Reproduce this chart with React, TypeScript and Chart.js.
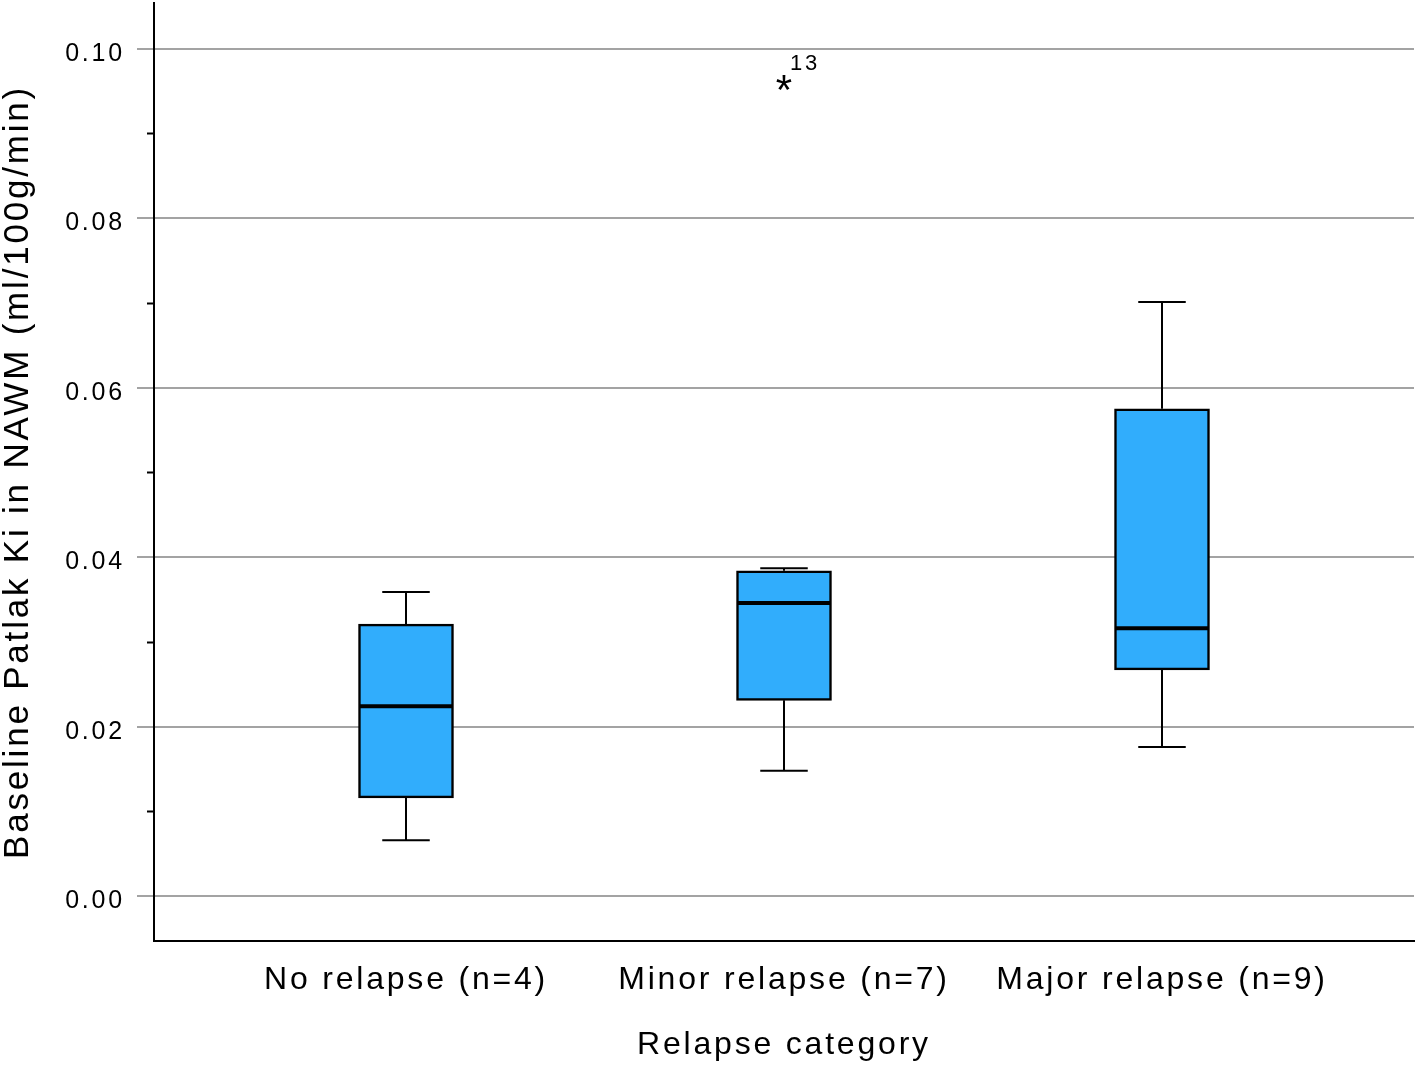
import React, { useEffect, useRef } from 'react';
import { Chart, registerables, Plugin } from 'chart.js';

Chart.register(...registerables);

// Box plot values
const categories = ['No relapse (n=4)', 'Minor relapse (n=7)', 'Major relapse (n=9)'];
const whiskerLow = [0.0066, 0.0148, 0.0176];
const q1 = [0.0116, 0.0231, 0.0267];
const medians = [0.0224, 0.0346, 0.0316];
const q3 = [0.0321, 0.0384, 0.0575];
const whiskerHigh = [0.0359, 0.0387, 0.0701];

// Extreme outlier (shown as *) with its case number
const outlierCategory = [1];
const outlierValues = [0.096];
const outlierLabels = ['13'];

const yTicks = [0, 0.02, 0.04, 0.06, 0.08, 0.1];
const yMinorTicks = [0.01, 0.03, 0.05, 0.07, 0.09];

const FONT = "'Liberation Sans', Arial, sans-serif";
const BOX_COLOR = '#31ADFC';
const GRID_COLOR = '#A3A3A3';

const boxPlotPlugin: Plugin<'bar'> = {
    id: 'boxPlotExtras',
    beforeUpdate(chart) {
        (chart.ctx as any).letterSpacing = '2.8px';
    },
    beforeDraw(chart) {
        (chart.ctx as any).letterSpacing = '2.8px';
    },
    afterDatasetsDraw(chart) {
        const { ctx, scales } = chart;
        const x = scales.x;
        const y = scales.y;
        const meta = chart.getDatasetMeta(0);
        ctx.save();
        ctx.strokeStyle = '#000';
        categories.forEach((_, i) => {
            const bar = meta.data[i] as any;
            const cx = x.getPixelForValue(i);
            const half = bar.width / 2;
            const capHalf = half / 2;
            const yHi = y.getPixelForValue(whiskerHigh[i]);
            const yLo = y.getPixelForValue(whiskerLow[i]);
            const yQ3 = y.getPixelForValue(q3[i]);
            const yQ1 = y.getPixelForValue(q1[i]);

            // whiskers and caps
            ctx.lineWidth = 2;
            ctx.beginPath();
            ctx.moveTo(cx, yQ3);
            ctx.lineTo(cx, yHi);
            ctx.moveTo(cx - capHalf, yHi);
            ctx.lineTo(cx + capHalf, yHi);
            ctx.moveTo(cx, yQ1);
            ctx.lineTo(cx, yLo);
            ctx.moveTo(cx - capHalf, yLo);
            ctx.lineTo(cx + capHalf, yLo);
            ctx.stroke();

            // median
            const yMed = y.getPixelForValue(medians[i]);
            ctx.lineWidth = 4;
            ctx.beginPath();
            ctx.moveTo(cx - half + 1, yMed);
            ctx.lineTo(cx + half - 1, yMed);
            ctx.stroke();
        });

        // outliers
        ctx.fillStyle = '#000';
        outlierValues.forEach((v, k) => {
            const px = x.getPixelForValue(outlierCategory[k]);
            const py = y.getPixelForValue(v);
            ctx.font = `42px ${FONT}`;
            (ctx as any).letterSpacing = '0px';
            const m = ctx.measureText('*');
            ctx.textAlign = 'center';
            ctx.textBaseline = 'alphabetic';
            ctx.fillText('*', px, py + (m.actualBoundingBoxAscent - m.actualBoundingBoxDescent) / 2);
            (ctx as any).letterSpacing = '2.8px';
            ctx.font = `22px ${FONT}`;
            ctx.textAlign = 'left';
            ctx.textBaseline = 'middle';
            ctx.fillText(outlierLabels[k], px + 6, py - 19);
        });
        ctx.restore();
    },
    afterDraw(chart) {
        const { ctx, chartArea, scales } = chart;
        const y = scales.y;
        ctx.save();
        ctx.strokeStyle = '#000';
        ctx.lineWidth = 2;
        ctx.beginPath();
        yMinorTicks.forEach((v) => {
            const py = Math.round(y.getPixelForValue(v)) + 0.5;
            ctx.moveTo(chartArea.left - 7, py);
            ctx.lineTo(chartArea.left, py);
        });
        ctx.stroke();
        ctx.restore();
    },
};

const BoxPlotChart: React.FC = () => {
    const canvasRef = useRef<HTMLCanvasElement | null>(null);
    const chartRef = useRef<Chart | null>(null);

    useEffect(() => {
        document.body.style.margin = '0';
        if (!canvasRef.current) return;
        const ctx = canvasRef.current.getContext('2d');
        if (!ctx) return;
        if (chartRef.current) chartRef.current.destroy();

        chartRef.current = new Chart(ctx, {
            type: 'bar',
            data: {
                datasets: [{
                    data: categories.map((_, i) => ({ x: i, y: [q1[i], q3[i]] })) as any,
                    backgroundColor: BOX_COLOR,
                    borderColor: '#000',
                    borderWidth: 2.5,
                    borderSkipped: false,
                    barThickness: 95,
                }],
            },
            options: {
                animation: false,
                responsive: false,
                devicePixelRatio: 1,
                layout: { padding: { top: 3, right: 3, left: 0, bottom: 0 } },
                plugins: {
                    legend: { display: false },
                    tooltip: { enabled: false },
                },
                scales: {
                    x: {
                        type: 'linear',
                        offset: false,
                        min: -2 / 3,
                        max: 8 / 3,
                        afterBuildTicks: (s: any) => {
                            s.ticks = categories.map((_, i) => ({ value: i }));
                        },
                        afterFit: (s: any) => {
                            s.height = 125;
                            s.paddingLeft = 0;
                            s.paddingRight = 0;
                        },
                        grid: { display: false, drawTicks: false, offset: false },
                        border: { display: true, color: '#000', width: 2 },
                        ticks: {
                            callback: (v: any) => categories[Math.round(Number(v))],
                            padding: 20,
                            color: '#000',
                            maxRotation: 0,
                            autoSkip: false,
                            font: { size: 32, family: FONT },
                        },
                        title: {
                            display: true,
                            text: 'Relapse category',
                            color: '#000',
                            font: { size: 32, family: FONT },
                            padding: { top: 0, bottom: 2 },
                        },
                    },
                    y: {
                        type: 'linear',
                        min: -0.0053,
                        max: 0.1054,
                        afterBuildTicks: (s: any) => {
                            s.ticks = yTicks.map((v) => ({ value: v }));
                        },
                        afterFit: (s: any) => {
                            s.width = 154;
                            s.paddingTop = 0;
                            s.paddingBottom = 0;
                        },
                        grid: {
                            color: GRID_COLOR,
                            lineWidth: 2,
                            drawTicks: true,
                            tickLength: 17,
                            tickColor: GRID_COLOR,
                        },
                        border: { display: true, color: '#000', width: 2 },
                        ticks: {
                            callback: (v: any) => Number(v).toFixed(2),
                            padding: 12,
                            labelOffset: 5,
                            color: '#000',
                            font: { size: 25, family: FONT },
                        },
                        title: {
                            display: true,
                            text: 'Baseline Patlak Ki in NAWM (ml/100g/min)',
                            color: '#000',
                            font: { size: 35, family: FONT, lineHeight: 1 },
                            padding: { top: 1, bottom: 0 },
                        },
                    },
                },
            },
            plugins: [boxPlotPlugin],
        });

        return () => {
            if (chartRef.current) {
                chartRef.current.destroy();
                chartRef.current = null;
            }
        };
    }, []);

    return (
        <div style={{ width: 1417, height: 1066, background: '#fff' }}>
            <canvas ref={canvasRef} width={1417} height={1066} style={{ display: 'block' }} />
        </div>
    );
};

export default function App() {
    return <BoxPlotChart />;
}
